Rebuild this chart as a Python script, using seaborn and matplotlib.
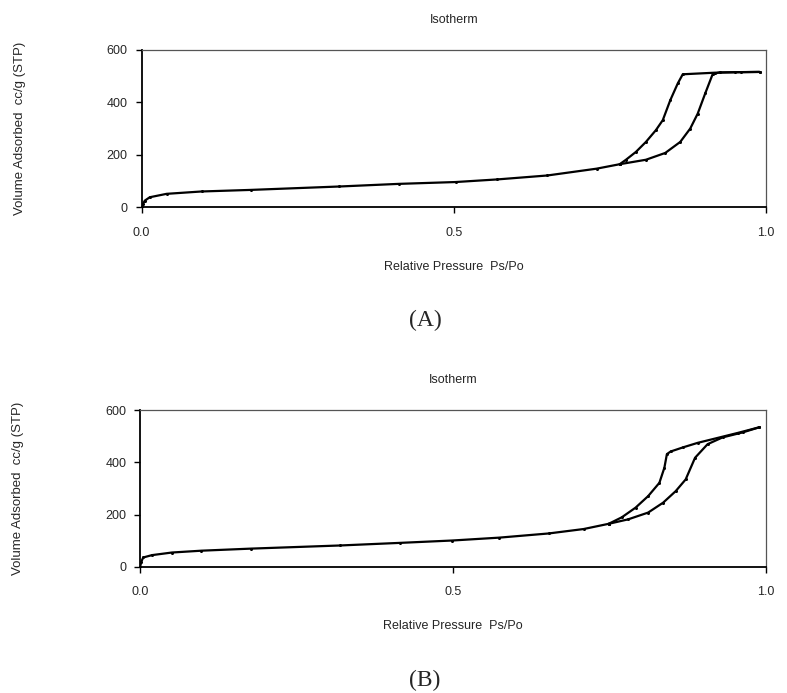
import matplotlib
matplotlib.use('Agg')
import matplotlib.pyplot as plt
import pandas as pd
import seaborn as sns

# panel A: common low-pressure part, adsorption branch, desorption branch
a_common_p = [0.0, 0.002, 0.005, 0.013, 0.040, 0.096, 0.175, 0.317, 0.412, 0.503, 0.570, 0.650, 0.729, 0.766]
a_common_v = [0, 12, 25, 38, 51, 60, 66, 79, 89, 96, 106, 121, 147, 164]
a_ads_p = [0.766, 0.808, 0.839, 0.863, 0.879, 0.891, 0.903, 0.915, 0.926, 0.960, 0.990]
a_ads_v = [164, 181, 207, 249, 300, 357, 434, 508, 514, 515, 516]
a_des_p = [0.990, 0.950, 0.918, 0.867, 0.859, 0.847, 0.835, 0.824, 0.808, 0.792, 0.776, 0.766]
a_des_v = [516, 515, 513, 507, 472, 408, 332, 294, 249, 211, 181, 164]

# panel B
b_common_p = [0.0, 0.002, 0.005, 0.019, 0.051, 0.098, 0.178, 0.320, 0.416, 0.499, 0.574, 0.653, 0.709, 0.749]
b_common_v = [0, 20, 36, 45, 55, 62, 70, 82, 92, 101, 112, 128, 145, 165]
b_ads_p = [0.749, 0.780, 0.812, 0.836, 0.856, 0.872, 0.887, 0.907, 0.931, 0.963, 0.990]
b_ads_v = [165, 182, 208, 246, 290, 335, 418, 470, 496, 515, 535]
b_des_p = [0.990, 0.955, 0.923, 0.891, 0.868, 0.848, 0.842, 0.838, 0.830, 0.812, 0.792, 0.770, 0.749]
b_des_v = [535, 513, 494, 475, 458, 442, 432, 380, 322, 271, 227, 190, 165]

y_ticks = [0, 200, 400, 600]
x_ticks = [0.0, 0.5, 1.0]
x_tick_labels = ['0.0', '0.5', '1.0']

sns.set_style('white')
plt.rcParams['font.family'] = ['Liberation Sans', 'DejaVu Sans']


def branch_frame(parts):
    rows = []
    for name, ps, vs in parts:
        for p, v in zip(ps, vs):
            rows.append({'branch': name, 'p': p, 'v': v})
    return pd.DataFrame(rows)


def draw_panel(ax, data):
    for name, grp in data.groupby('branch', sort=False):
        sns.lineplot(data=grp, x='p', y='v', ax=ax, sort=False, estimator=None,
                     color='black', linewidth=1.6, marker='o', markersize=2.2,
                     markeredgewidth=0)
    ax.set_xlim(0, 1.0)
    ax.set_ylim(0, 600)
    ax.set_xticks(x_ticks)
    ax.set_xticklabels(x_tick_labels)
    ax.set_yticks(y_ticks)
    ax.tick_params(axis='both', direction='out', length=4, width=1, labelsize=9,
                   bottom=True, left=True, color='black', pad=6)
    ax.tick_params(axis='x', pad=10)
    for side in ['left', 'bottom']:
        ax.spines[side].set_color('black')
        ax.spines[side].set_linewidth(1.3)
    for side in ['top', 'right']:
        ax.spines[side].set_color('#555555')
        ax.spines[side].set_linewidth(0.9)
    ax.set_xlabel('Relative Pressure  Ps/Po', fontsize=9)
    ax.xaxis.set_label_coords(0.5, -0.34)
    ax.set_ylabel('Volume Adsorbed  cc/g (STP)', fontsize=9.5)
    ax.yaxis.set_label_coords(-0.185, 0.5)
    ax.text(0.5, 1.19, 'Isotherm', transform=ax.transAxes, ha='center',
            va='center', fontsize=9)


fig = plt.figure(figsize=(7.87, 6.93), dpi=100)
ax_a = fig.add_axes([0.180, 0.701, 0.793, 0.227])
ax_b = fig.add_axes([0.178, 0.182, 0.795, 0.226])

data_a = branch_frame([('common', a_common_p, a_common_v),
                       ('adsorption', a_ads_p, a_ads_v),
                       ('desorption', a_des_p, a_des_v)])
data_b = branch_frame([('common', b_common_p, b_common_v),
                       ('adsorption', b_ads_p, b_ads_v),
                       ('desorption', b_des_p, b_des_v)])
draw_panel(ax_a, data_a)
draw_panel(ax_b, data_b)

fig.text(425 / 787, 1 - 320 / 693, '(A)', ha='center', va='center',
         fontsize=17, family=['Liberation Serif', 'DejaVu Serif'])
fig.text(425 / 787, 1 - 680 / 693, '(B)', ha='center', va='center',
         fontsize=17, family=['Liberation Serif', 'DejaVu Serif'])

fig.savefig('out.png', dpi=100)
